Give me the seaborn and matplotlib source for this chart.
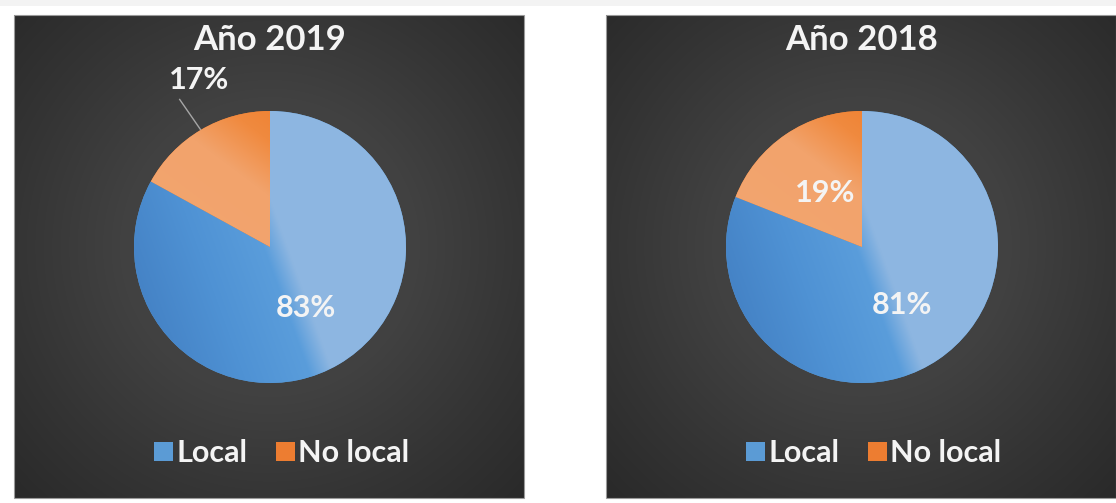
import numpy as np
import matplotlib
matplotlib.use("Agg")
import matplotlib.pyplot as plt
from matplotlib.patches import Patch, Rectangle
from matplotlib.colors import to_rgb
import seaborn as sns

# ---- data ----
years = ["Año 2019", "Año 2018"]
categories = ["Local", "No local"]
local_pct = [83, 81]
no_local_pct = [17, 19]
small_label_outside = [True, False]

sns.set_theme(style="white")
plt.rcParams["font.family"] = ["Lato", "DejaVu Sans"]

W, H = 1116, 503
fig = plt.figure(figsize=(W / 100, H / 100), dpi=100)
fig.patch.set_facecolor("white")
fig.patches.append(Rectangle((0, 1 - 6 / H), 1, 6 / H, transform=fig.transFigure,
                             facecolor="#f3f3f3", edgecolor="none", zorder=0))

palette = sns.color_palette(["#5B9BD5", "#ED7D31"])
TXT = "#f4f4f4"


def interp_stops(s, stops):
    xs = [p for p, _ in stops]
    cols = np.array([to_rgb(c) for _, c in stops])
    return np.stack([np.interp(s, xs, cols[:, k]) for k in range(3)], axis=-1)


PW, PH = 510, 483
panel_left = [14, 606]
cx, cy, R = 256, 251, 136

blue_stops = [(-1.0, "#4583C6"), (-0.5, "#4F92D4"), (-0.04, "#5A9DDB"),
              (0.12, "#8DB6E1"), (1.0, "#8EB7E2")]
orange_stops = [(-1.0, "#F3A772"), (0.3, "#F2A36C"), (0.62, "#F08A3F"), (1.0, "#EF7D2B")]
grad_dirs = [(0.94, 0.34), (0.6, 0.8)]
grad_stops = [blue_stops, orange_stops]

bg_stops = [(0, "#474747"), (150, "#414141"), (260, "#343434"), (380, "#272727")]

for i, year in enumerate(years):
    ax = fig.add_axes([panel_left[i] / W, (H - 498) / H, PW / W, PH / H])
    # radial background
    yy, xx = np.mgrid[0:PH, 0:PW] + 0.5
    d = np.hypot(xx - cx, yy - cy)
    ax.imshow(interp_stops(d, bg_stops), extent=(0, PW, 0, PH), origin="lower",
              zorder=0, interpolation="bilinear")

    values = [local_pct[i], no_local_pct[i]]
    wedges, _ = ax.pie(values, colors=palette, startangle=90, counterclock=False,
                       center=(cx, cy), radius=R, frame=True,
                       wedgeprops=dict(linewidth=0, zorder=1))

    n = 400
    gy, gx = np.mgrid[0:n, 0:n]
    ux = (gx + 0.5) / n * 2 - 1
    uy = (gy + 0.5) / n * 2 - 1
    for w, (nx, ny), stops in zip(wedges, grad_dirs, grad_stops):
        s = ux * nx + uy * ny
        im = ax.imshow(interp_stops(s, stops), extent=(cx - R, cx + R, cy - R, cy + R),
                       origin="lower", zorder=2, interpolation="bilinear")
        im.set_clip_path(w)

    # percentage labels
    for j, w in enumerate(wedges):
        mid = np.deg2rad((w.theta1 + w.theta2) / 2)
        txt = f"{values[j]}%"
        if j == 1 and small_label_outside[i]:
            ex, ey = cx + R * np.cos(mid), cy + R * np.sin(mid)
            ax.plot([ex, cx - 0.667 * R], [ey, cy + 1.089 * R], color="#a6a6a6",
                    lw=1.0, zorder=3, solid_capstyle="butt")
            ax.text(cx - 0.52 * R, cy + 1.23 * R, txt, ha="center", va="center",
                    color=TXT, fontsize=22, fontweight="bold", zorder=4)
        else:
            dist = 0.52 if j == 0 else 0.48
            ax.text(cx + dist * R * np.cos(mid), cy + dist * R * np.sin(mid), txt,
                    ha="center", va="center", color=TXT, fontsize=22,
                    fontweight="bold", zorder=4)

    ax.text(256, 458, year, ha="center", va="center", color=TXT, fontsize=25,
            fontweight="bold", zorder=4)

    handles = [Patch(facecolor=palette[0], edgecolor="none"),
               Patch(facecolor=palette[1], edgecolor="none")]
    ax.legend(handles, categories, loc="center", bbox_to_anchor=(268 / PW, 45 / PH),
              ncol=2, frameon=False, handlelength=0.6, handleheight=0.6,
              handletextpad=0.12, columnspacing=0.95, labelcolor=TXT,
              prop=dict(weight="bold", size=22))

    ax.add_patch(Rectangle((0, 0), 1, 1, transform=ax.transAxes, facecolor="none",
                           edgecolor="#9a9a9a", lw=0.8, zorder=5, clip_on=False))
    ax.set_xlim(0, PW)
    ax.set_ylim(0, PH)
    ax.set_aspect("equal", adjustable="box")
    ax.set_axis_off()

fig.savefig("out.png", dpi=100, facecolor="white")
